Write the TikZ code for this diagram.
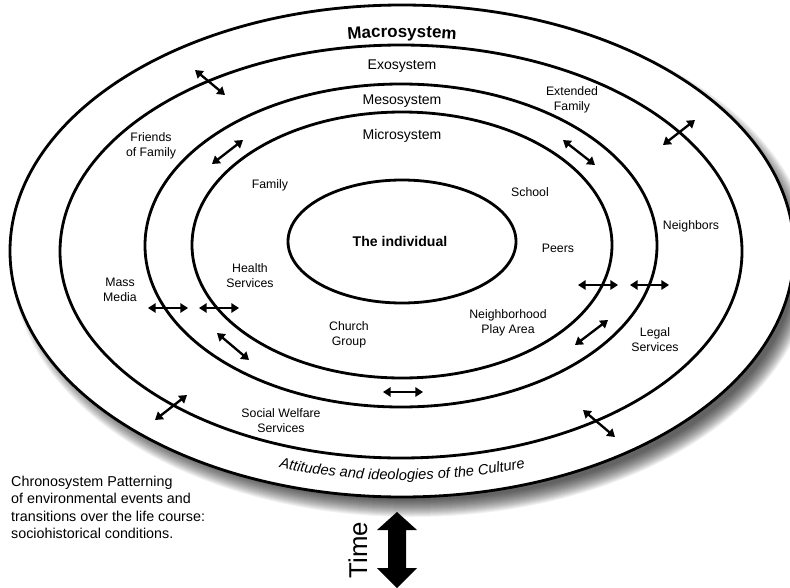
\documentclass[tikz,border=0pt]{standalone}
\usepackage{fontspec}
\setmainfont{Liberation Sans}
\usetikzlibrary{arrows.meta,decorations.text}

\begin{document}
\begin{tikzpicture}[x=0.03cm, y=-0.03cm,
    ring/.style ={draw=black, line width=2.4pt},
    system_label/.style ={inner sep=0pt, font=\fontsize{12}{14}\selectfont},
    place_label/.style ={inner sep=0pt, align=center,
      font=\fontsize{10.5}{12.8}\selectfont},
    twoway/.style ={draw, line width=2pt,
      {Triangle[width=8pt,length=6.5pt]}-{Triangle[width=8pt,length=6.5pt]}}]
    \useasboundingbox (0,0) rectangle (790,587);
    % soft shadow under the outer ring
    \foreach \s in {0,...,17}
      \fill[black, opacity=0.05] (412,263) ellipse [x radius=400-\s, y radius=254-\s];
    % rings from outside in
    \draw[ring, fill=white] (402,251) ellipse [x radius=392, y radius=246];
    \draw[ring] (401,251.5) ellipse [x radius=341, y radius=206.5];
    \draw[ring] (401,245.5) ellipse [x radius=256, y radius=161.5];
    \draw[ring] (402,245) ellipse [x radius=210, y radius=133];
    \draw[ring] (402,241.5) ellipse [x radius=114, y radius=61.5];
    % curved texts of the outer ring
    \path[decorate, decoration={text along path, text align=center,
        text={|\fontsize{14.5}{16}\selectfont\bfseries|Macrosystem}}]
      ([shift={(240:362 and 214)}]402,251) arc [start angle=240, end angle=300,
        x radius=362, y radius=214];
    \path[decorate, decoration={text along path, text align=center,
        text={|\fontsize{12.5}{15}\selectfont\itshape|Attitudes and ideologies of the Culture}}]
      ([shift={(125:382 and 229)}]402,251) arc [start angle=125, end angle=55,
        x radius=382, y radius=229];
    % system names
    \node[system_label] (exo) at (402,66) {Exosystem};
    \node[system_label] (meso) at (402,101) {Mesosystem};
    \node[system_label] (micro) at (402,136) {Microsystem};
    \node[system_label, font=\fontsize{12}{14}\selectfont\bfseries] (individual) at (400,241) {The individual};
    % settings
    \node[place_label] (extended) at (572,100) {Extended\\Family};
    \node[place_label] (friends) at (151,146) {Friends\\of Family};
    \node[place_label] (family) at (270,185) {Family};
    \node[place_label] (school) at (530,192) {School};
    \node[place_label] (peers) at (558,248) {Peers};
    \node[place_label] (neighbors) at (691,226) {Neighbors};
    \node[place_label] (health) at (250,276) {Health\\Services};
    \node[place_label] (media) at (120,290) {Mass\\Media};
    \node[place_label] (church) at (349,335) {Church\\Group};
    \node[place_label] (playarea) at (508,323) {Neighborhood\\Play Area};
    \node[place_label] (legal) at (655,340) {Legal\\Services};
    \node[place_label] (welfare) at (281,421) {Social Welfare\\Services};
    % chronosystem
    \node[inner sep=0pt, anchor=north west, align=left,
      font=\fontsize{12.2}{14.7}\selectfont] (chrono) at (11,476)
      {Chronosystem Patterning\\of environmental events and\\transitions over the life course:\\sociohistorical conditions.};
    \node[inner sep=0pt, rotate=90, font=\fontsize{22}{24}\selectfont] (time) at (358,550) {Time};
    \fill[black] (397,512) -- (417,530) -- (406,530) -- (406,568) -- (417,568)
      -- (397,588) -- (377,568) -- (388,568) -- (388,530) -- (377,530) -- cycle;
    % two way influences across the rings
    \begin{scope}[every path/.style=twoway]
     \path (195,70) -- (225,95);
     \path (212,164) -- (243,140);
     \path (563,140) -- (595,165);
     \path (663,145) -- (695,120);
     \path (578,285) -- (618,285);
     \path (630,285) -- (669,285);
     \path (148,308) -- (188,308);
     \path (199,308) -- (239,308);
     \path (217,333) -- (249,360);
     \path (383,392) -- (423,392);
     \path (575,345) -- (608,320);
     \path (155,420) -- (187,395);
     \path (583,410) -- (615,437);
    \end{scope}
\end{tikzpicture}
\end{document}
